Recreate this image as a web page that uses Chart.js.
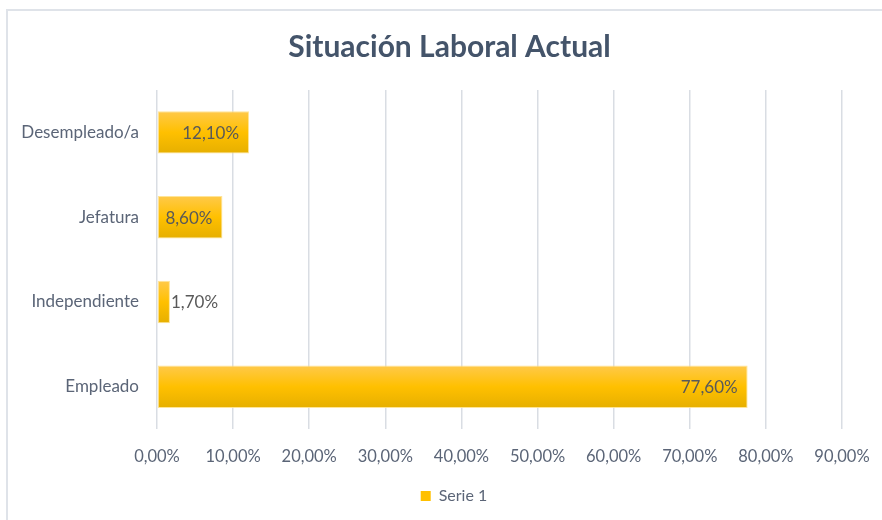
<!DOCTYPE html>
<html>
<head>
<meta charset="utf-8">
<script src="https://cdn.jsdelivr.net/npm/chart.js@4"></script>
<style>
  html, body { margin: 0; padding: 0; background: #fff; overflow: hidden; }
  #wrap { position: relative; width: 882px; height: 520px; }
  #frame {
    position: absolute; left: 6px; top: 9px; width: 900px; height: 600px;
    border-top: 2px solid #dfe3e9; border-left: 2px solid #dfe3e9;
    pointer-events: none;
  }
</style>
</head>
<body>
<div id="wrap">
  <canvas id="chart" width="882" height="520"></canvas>
  <div id="frame"></div>
</div>
<script>
// Situación laboral actual, porcentajes
const categories = ["Desempleado/a", "Jefatura", "Independiente", "Empleado"]
const serie1 = [12.1, 8.6, 1.7, 77.6]
const xTicks = [0, 10, 20, 30, 40, 50, 60, 70, 80, 90]

const FONT = "Lato, 'Open Sans', sans-serif"
const TEXT = "#5b6577"

const fmtPct = v => v.toFixed(2).replace(".", ",") + "%"

// vertical gold gradient inside each bar
function barFill(context) {
  const chart = context.chart
  const yScale = chart.scales.y
  if (!yScale || !chart.chartArea) return "#ffc000"
  const cy = yScale.getPixelForValue(context.dataIndex)
  const h = (chart.chartArea.bottom - chart.chartArea.top) / categories.length * 0.5
  if (!isFinite(cy) || !isFinite(h)) return "#ffc000"
  const g = chart.ctx.createLinearGradient(0, cy - h / 2, 0, cy + h / 2)
  g.addColorStop(0, "#ffc94a")
  g.addColorStop(0.5, "#ffc000")
  g.addColorStop(1, "#e6af00")
  return g
}

// data labels, inside end unless the bar is too short
const valueLabels = {
  id: "valueLabels",
  afterDatasetsDraw(chart) {
    const ctx = chart.ctx
    const meta = chart.getDatasetMeta(0)
    ctx.save()
    ctx.font = "17px " + FONT
    ctx.fillStyle = "#595959"
    ctx.textBaseline = "middle"
    meta.data.forEach((bar, i) => {
      const txt = fmtPct(serie1[i])
      const w = ctx.measureText(txt).width
      if (bar.x - bar.base > w + 14) {
        ctx.textAlign = "right"
        ctx.fillText(txt, bar.x - 10, bar.y + 1)
      } else {
        ctx.textAlign = "left"
        ctx.fillText(txt, bar.x + 1, bar.y + 1)
      }
    })
    ctx.restore()
  }
}

// the title and legend sit centred on the whole frame, a bit right of the canvas middle
const shiftBlocks = {
  id: "shiftBlocks",
  afterLayout(chart) {
    if (chart.titleBlock) chart.titleBlock.left += 18
    if (chart.legend) chart.legend.left += 27
  }
}

new Chart(document.getElementById("chart"), {
  type: "bar",
  data: {
    labels: categories,
    datasets: [{
      label: "Serie 1",
      data: serie1,
      backgroundColor: barFill,
      borderColor: "rgba(255, 226, 140, 0.9)",
      borderWidth: 1,
      borderSkipped: false,
      categoryPercentage: 1,
      barPercentage: 0.5
    }]
  },
  options: {
    indexAxis: "y",
    responsive: false,
    animation: false,
    layout: { padding: { left: 0, right: 1, top: 0, bottom: 6 } },
    scales: {
      x: {
        min: 0,
        max: 90,
        afterBuildTicks: axis => { axis.ticks = xTicks.map(v => ({ value: v })) },
        afterFit: axis => { axis.paddingRight = 40 },
        grid: { color: "#d9dde3", lineWidth: 1.5, drawTicks: false },
        border: { display: false },
        ticks: {
          padding: 18,
          color: TEXT,
          font: { family: FONT, size: 16.5 },
          callback: v => fmtPct(v)
        }
      },
      y: {
        afterFit: axis => { axis.width = 157 },
        grid: { display: false, drawTicks: false },
        border: { display: false },
        ticks: {
          padding: 18,
          color: TEXT,
          font: { family: FONT, size: 17 }
        }
      }
    },
    plugins: {
      title: {
        display: true,
        text: "Situación Laboral Actual",
        color: "#44546a",
        font: { family: FONT, size: 30, weight: "bold" },
        padding: { top: 29.5, bottom: 24.5 }
      },
      legend: {
        position: "bottom",
        labels: {
          boxWidth: 10,
          boxHeight: 10,
          padding: 3,
          color: TEXT,
          font: { family: FONT, size: 16 },
          generateLabels: chart => [{
            text: "Serie 1",
            fillStyle: "#ffc000",
            strokeStyle: "#ffc000",
            lineWidth: 0,
            fontColor: TEXT,
            datasetIndex: 0
          }]
        }
      },
      tooltip: { enabled: false }
    }
  },
  plugins: [valueLabels, shiftBlocks]
})
</script>
</body>
</html>
